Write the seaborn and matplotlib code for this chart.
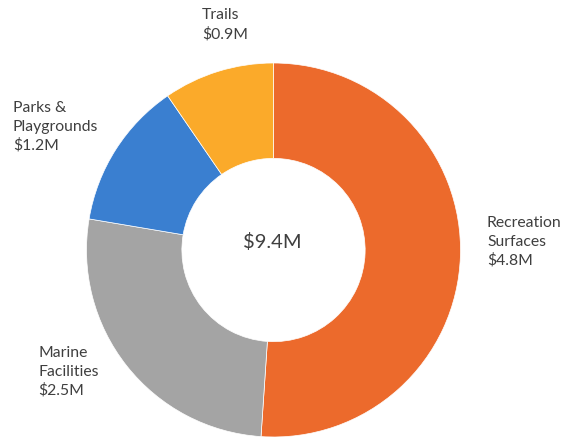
import matplotlib
matplotlib.use("Agg")
import matplotlib.pyplot as plt
import seaborn as sns

# Capital spending by category, $ millions
categories = ["Recreation\nSurfaces", "Marine\nFacilities", "Parks &\nPlaygrounds", "Trails"]
values = [4.8, 2.5, 1.2, 0.9]
colors = ["#EC6A2C", "#A4A4A4", "#3A7FD0", "#FBAA2A"]

sns.set_theme(style="white")
plt.rcParams["font.family"] = ["Lato", "DejaVu Sans"]

W, H = 562, 437
fig = plt.figure(figsize=(W / 100, H / 100), dpi=100)
ax = fig.add_axes([0, 0, 1, 1])

cx, cy, r = 273.5, H - 250, 187
palette = sns.color_palette(colors)
ax.pie(values, colors=palette, startangle=90, counterclock=False,
       center=(cx, cy), radius=r, frame=True,
       wedgeprops=dict(width=r * 0.51, edgecolor="white", linewidth=0.5))
ax.set_xlim(0, W)
ax.set_ylim(0, H)
ax.set_aspect("equal")
ax.axis("off")

text_color = "#3F3F3F"
# Label anchor (left x, top y in pixels from top)
label_pos = [(487, 216), (38, 346), (13, 101), (202, 8)]
for name, v, (lx, ly) in zip(categories, values, label_pos):
    ax.text(lx, H - ly, f"{name}\n${v}M", ha="left", va="top",
            fontsize=11.3, color=text_color, linespacing=1.42)

total = sum(values)
ax.text(cx - 1, H - 242, f"${total:.1f}M", ha="center", va="center",
        fontsize=14.5, color=text_color)

fig.savefig("out.png", dpi=100, facecolor="white")
